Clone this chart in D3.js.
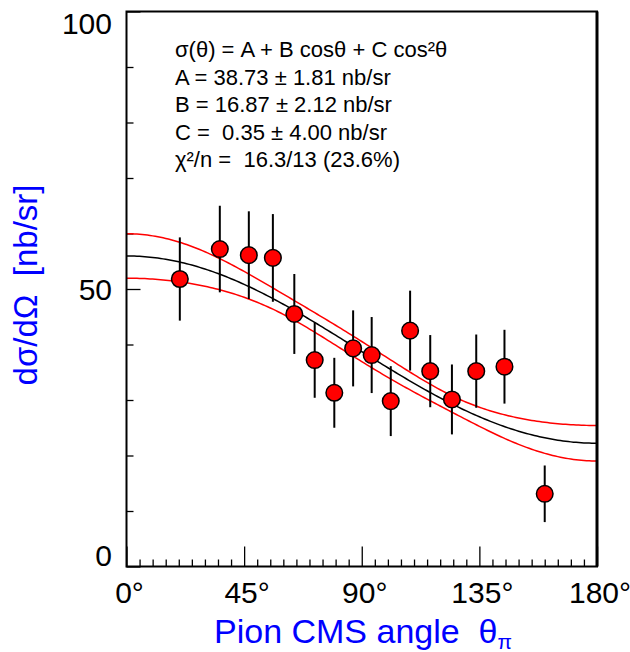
<!DOCTYPE html>
<html>
<head>
<meta charset="utf-8">
<script src="https://cdn.jsdelivr.net/npm/d3@7"></script>
<style>
  body { margin: 0; background: #fff; }
  svg text { font-family: "Liberation Sans", Arial, sans-serif; white-space: pre; }
</style>
</head>
<body>
<svg id="chart" width="630" height="652"></svg>
<script>
// measured points: pion CMS angle (deg), cross section (nb/sr), error
var angles = [20.4, 35.7, 46.8, 56.0, 64.2, 72.0, 79.5, 86.7, 93.8, 101.1, 108.5, 116.2, 124.5, 133.8, 144.6, 160.0];
var values = [51.8, 57.2, 56.1, 55.6, 45.5, 37.2, 31.3, 39.3, 38.1, 29.8, 42.5, 35.2, 30.1, 35.2, 36.0, 13.1];
var errors = [7.5, 7.8, 7.9, 7.9, 7.2, 6.8, 6.3, 6.85, 6.85, 6.3, 7.2, 6.5, 6.3, 6.6, 6.65, 5.1];

// fit parameters A, B, C and their covariance
var fitPars = [38.73, 16.87, 0.35];
var fitCov = [
  [3.28, 0.3, -5.33],
  [0.3, 4.49, 1.15],
  [-5.33, 1.15, 16.0]
];

var infoLines = [
  "σ(θ) = A + B cosθ + C cos²θ",
  "A = 38.73 ± 1.81 nb/sr",
  "B = 16.87 ± 2.12 nb/sr",
  "C =  0.35 ± 4.00 nb/sr",
  "χ²/n =  16.3/13 (23.6%)"
];
var xLabels = [0, 45, 90, 135, 180];
var yLabels = [0, 50, 100];

var svg = d3.select("#chart");
var pLeft = 126.5, pRight = 597, pTop = 11.5, pBottom = 566.5;

var x = d3.scaleLinear().domain([0, 180]).range([pLeft, pRight]);
var y = d3.scaleLinear().domain([0, 100]).range([pBottom, pTop]);

function fitVal(t) {
  var c = Math.cos(t * Math.PI / 180);
  return fitPars[0] + fitPars[1] * c + fitPars[2] * c * c;
}
function fitErr(t) {
  var c = Math.cos(t * Math.PI / 180);
  var g = [1, c, c * c], s = 0;
  for (var i = 0; i < 3; i++)
    for (var j = 0; j < 3; j++) s += g[i] * fitCov[i][j] * g[j];
  return Math.sqrt(s);
}

// x ticks every 5 deg, inward
var xAxis = svg.append("g")
  .attr("transform", "translate(0," + pBottom + ")")
  .call(d3.axisBottom(x).tickValues(d3.range(0, 181, 5)).tickFormat(""));
xAxis.select(".domain").remove();
xAxis.selectAll(".tick line")
  .attr("y2", function (d) { return d % 45 == 0 ? -20 : -7; })
  .attr("stroke", "#000").attr("stroke-width", 1.3);

var yAxis = svg.append("g")
  .attr("transform", "translate(" + pLeft + ",0)")
  .call(d3.axisLeft(y).tickValues(d3.range(0, 101, 10)).tickFormat(""));
yAxis.select(".domain").remove();
yAxis.selectAll(".tick line")
  .attr("x2", function (d) { return d % 50 == 0 ? 14 : 7; })
  .attr("stroke", "#000").attr("stroke-width", 1.3);

// tick labels
svg.selectAll(".xlab").data(xLabels).enter().append("text")
  .attr("class", "xlab")
  .attr("x", function (d) { return x(d) + 3; })
  .attr("y", 603)
  .attr("text-anchor", "middle")
  .attr("font-size", 30)
  .text(function (d) { return d + "°"; });

var yLabShift = {0: -1, 50: 11, 100: 22};
svg.selectAll(".ylab").data(yLabels).enter().append("text")
  .attr("class", "ylab")
  .attr("x", 112)
  .attr("y", function (d) { return y(d) + yLabShift[d]; })
  .attr("text-anchor", "end")
  .attr("font-size", 30)
  .text(function (d) { return d; });

// axis titles
var xt = svg.append("text")
  .attr("x", 363).attr("y", 643)
  .attr("text-anchor", "middle")
  .attr("font-size", 34)
  .attr("fill", "#0000ff");
xt.append("tspan").text("Pion CMS angle  θ");
xt.append("tspan").attr("font-size", 21).attr("dy", 6).text("π");

svg.append("text")
  .attr("transform", "translate(37,285) rotate(-90)")
  .attr("text-anchor", "middle")
  .attr("font-size", 33)
  .attr("fill", "#0000ff")
  .text("dσ/dΩ  [nb/sr]");

// fit curve and error band
var grid = d3.range(0, 180.5, 1);
var line = d3.line().x(function (d) { return x(d[0]); }).y(function (d) { return y(d[1]); });

svg.append("path")
  .attr("d", line(grid.map(function (t) { return [t, fitVal(t) + fitErr(t)]; })))
  .attr("fill", "none").attr("stroke", "#ff0000").attr("stroke-width", 1.5);
svg.append("path")
  .attr("d", line(grid.map(function (t) { return [t, fitVal(t) - fitErr(t)]; })))
  .attr("fill", "none").attr("stroke", "#ff0000").attr("stroke-width", 1.5);
svg.append("path")
  .attr("d", line(grid.map(function (t) { return [t, fitVal(t)]; })))
  .attr("fill", "none").attr("stroke", "#000").attr("stroke-width", 1.5);

// error bars and points
var pts = angles.map(function (a, i) { return {a: a, v: values[i], e: errors[i]}; });
svg.selectAll(".err").data(pts).enter().append("line")
  .attr("class", "err")
  .attr("x1", function (d) { return x(d.a); })
  .attr("x2", function (d) { return x(d.a); })
  .attr("y1", function (d) { return y(d.v + d.e); })
  .attr("y2", function (d) { return y(d.v - d.e); })
  .attr("stroke", "#000").attr("stroke-width", 2);
svg.selectAll(".pt").data(pts).enter().append("circle")
  .attr("class", "pt")
  .attr("cx", function (d) { return x(d.a); })
  .attr("cy", function (d) { return y(d.v); })
  .attr("r", 8.3)
  .attr("fill", "#ff0000").attr("stroke", "#000").attr("stroke-width", 1.5);

// frame
svg.append("rect")
  .attr("x", pLeft).attr("y", pTop)
  .attr("width", pRight - pLeft).attr("height", pBottom - pTop)
  .attr("fill", "none").attr("stroke", "#000").attr("stroke-width", 2);
svg.append("line")
  .attr("x1", pRight).attr("x2", pRight).attr("y1", pTop).attr("y2", pBottom)
  .attr("stroke", "#000").attr("stroke-width", 3);

// fit info
svg.selectAll(".info").data(infoLines).enter().append("text")
  .attr("class", "info")
  .attr("x", 175)
  .attr("y", function (d, i) { return 57 + i * 27.5; })
  .attr("font-size", 22)
  .text(function (d) { return d; });
</script>
</body>
</html>
